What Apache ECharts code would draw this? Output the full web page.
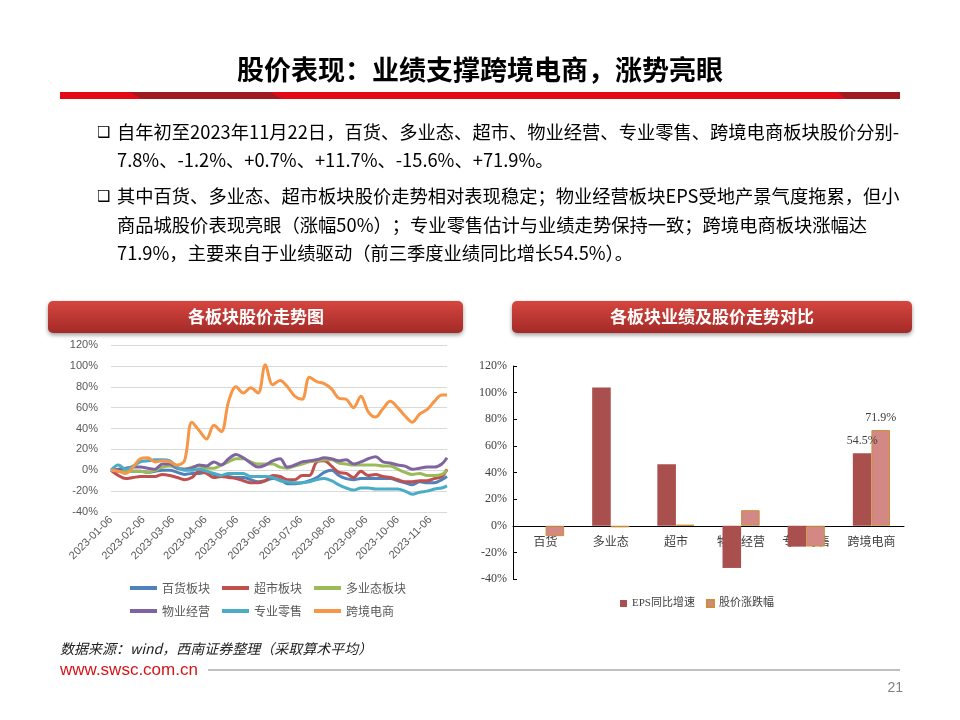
<!DOCTYPE html>
<html><head><meta charset="utf-8">
<script src="https://cdn.jsdelivr.net/npm/echarts@6/dist/echarts.min.js"></script>
<style>html,body{margin:0;padding:0;background:#fff}#c{width:960px;height:720px}</style>
</head><body><div id="c"></div>
<script>
// ---------- data: left line chart (weekly, % change since 2023-01-06) ----------
const startDate = '2023-01-06';
const endDate = '2023-11-22';
const lineNames = ['百货板块', '超市板块', '多业态板块', '物业经营', '专业零售', '跨境电商'];
const baihuo   = [0,-1,0,-1,-1,-2,-1,0,0,-2, -4,-3,-3,-2,-4,-5,-6,-7,-7,-9, -11,-10,-8,-9,-13,-13,-12,-10,-7,-2, 0,-5,-8,-9,-8,-8,-8,-8,-8,-10, -12,-14,-11,-12,-12,-9,-6];
const chaoshi  = [0,-5,-8,-7,-6,-6,-6,-4,-5,-7, -9,-7,-1,-3,-7,-6,-7,-8,-10,-12, -12,-10,-5,-6,-9,-9,-5,-5,8,9, 4,-2,-3,-7,-1,-5,-4,-6,-7,-9, -11,-11,-10,-10,-8,-6,1];
const duoyetai = [0,0,-1,-1,-1,-2,0,3,4,2, 1,3,4,2,2,5,8,11,11,8, 6,6,6,3,2,4,6,8,9,10, 10,7,6,5,5,5,5,4,4,1, -2,-4,-3,-5,-5,-4,0];
const wuye     = [0,1,2,3,3,2,1,6,6,2, 1,2,5,4,8,5,11,15,12,7, 3,5,9,11,3,5,8,9,10,12, 11,9,10,6,8,11,13,8,7,5, 4,1,2,3,3,6,12];
const zhuanye  = [0,5,1,4,8,9,10,10,9,3, 0,0,1,-1,-3,-5,-3,-3,-3,-6, -6,-6,-7,-10,-11,-12,-12,-11,-9,-8, -10,-14,-17,-19,-17,-17,-18,-18,-18,-18, -20,-23,-21,-20,-18,-17,-15];
const kuajing  = [0,-1,-3,3,11,12,8,9,8,5, 9,46,38,30,43,37,66,80,74,79, 74,101,82,86,80,71,68,89,85,83, 78,69,68,60,71,56,51,59,66,60, 52,46,54,58,66,72,72];
const lineColors = ['#4F81BD', '#C0504D', '#9BBB59', '#8064A2', '#4BACC6', '#F79646'];

// ---------- data: right bar chart ----------
const barCats = ['百货', '多业态', '超市', '物业经营', '专业零售', '跨境电商'];
const epsGrowth = [null, 103.9, 46.2, -31.7, -15.7, 54.5];
const priceChg  = [-7.8, -1.2, 0.7, 11.7, -15.6, 71.9];
const barNames = ['EPS同比增速', '股价涨跌幅'];

// ---------- axis categories ----------
function iso(t) { return new Date(t).toISOString().slice(0, 10); }
const dayCats = [];
for (let i = 0; ; i++) {
  const s = iso(Date.UTC(2023, 0, 6 + i));
  dayCats.push(s);
  if (s === endDate) break;
}
const weekDates = [];
for (let k = 0; k < 46; k++) weekDates.push(iso(Date.UTC(2023, 0, 6 + 7 * k)));
weekDates.push(endDate);

const lineData = [baihuo, chaoshi, duoyetai, wuye, zhuanye, kuajing];

const CJK = '"Noto Sans CJK SC", "Noto Sans", sans-serif';
const chart = echarts.init(document.getElementById('c'), null, {renderer: 'canvas'});

function txt(text, x, y, font, fill, align) {
  return {type: 'text', silent: true, style: {text: text, x: x, y: y, font: font, fill: fill || '#000',
    textAlign: align || 'left', textVerticalAlign: 'middle'}};
}
const redGrad = () => new echarts.graphic.LinearGradient(0, 0, 0, 1, [
  {offset: 0, color: '#D6463F'}, {offset: 1, color: '#A32A27'}]);

const graphics = [
  txt('股价表现：业绩支撑跨境电商，涨势亮眼', 480, 70, 'bold 27px ' + CJK, '#000', 'center'),
  {type: 'rect', silent: true, shape: {x: 60, y: 92, width: 840, height: 7}, style: {fill: '#E20A17'}},
  {type: 'polygon', silent: true, shape: {points: [[130, 92], [270, 92], [282, 99], [142, 99]]}, style: {fill: '#9E1C1E'}},
  {type: 'polygon', silent: true, shape: {points: [[838, 92], [900, 92], [900, 99], [846, 99]]}, style: {fill: '#9E1C1E'}},
  txt('❑', 97, 133, '15px "DejaVu Sans"', '#000'),
  txt('自年初至2023年11月22日，百货、多业态、超市、物业经营、专业零售、跨境电商板块股价分别-', 117, 132, '18.3px ' + CJK),
  txt('7.8%、-1.2%、+0.7%、+11.7%、-15.6%、+71.9%。', 117, 160, '18.3px ' + CJK),
  txt('❑', 97, 197, '15px "DejaVu Sans"', '#000'),
  txt('其中百货、多业态、超市板块股价走势相对表现稳定；物业经营板块EPS受地产景气度拖累，但小', 117, 196, '18.3px ' + CJK),
  txt('商品城股价表现亮眼（涨幅50%）；专业零售估计与业绩走势保持一致；跨境电商板块涨幅达', 117, 225, '18.3px ' + CJK),
  txt('71.9%，主要来自于业绩驱动（前三季度业绩同比增长54.5%）。', 117, 253, '18.3px ' + CJK),
  {type: 'rect', silent: true, shape: {x: 48, y: 301, width: 415, height: 32, r: 5},
    style: {fill: redGrad(), shadowBlur: 4, shadowOffsetY: 2, shadowColor: 'rgba(0,0,0,0.4)'}},
  {type: 'rect', silent: true, shape: {x: 512, y: 301, width: 400, height: 32, r: 5},
    style: {fill: redGrad(), shadowBlur: 4, shadowOffsetY: 2, shadowColor: 'rgba(0,0,0,0.4)'}},
  txt('各板块股价走势图', 256, 317, 'bold 17px ' + CJK, '#fff', 'center'),
  txt('各板块业绩及股价走势对比', 712, 317, 'bold 17px ' + CJK, '#fff', 'center'),
  txt('数据来源：wind，西南证券整理（采取算术平均）', 60, 649, 'italic 14px ' + CJK, '#222'),
  txt('www.swsc.com.cn', 60, 670, '17px "Liberation Sans Narrow", "Liberation Sans", sans-serif', '#D7141A'),
  {type: 'line', silent: true, shape: {x1: 208, y1: 670, x2: 900, y2: 670}, style: {stroke: '#BFBFBF', lineWidth: 2}},
  txt('21', 903, 688, '14px "Liberation Sans", sans-serif', '#808080', 'right')
];

const option = {
  animation: false,
  backgroundColor: '#fff',
  graphic: graphics,
  grid: [
    {left: 111, right: 513, top: 345, bottom: 208},
    {left: 513, right: 56, top: 366, bottom: 141}
  ],
  legend: [
    {data: lineNames.slice(0, 3), left: 130, top: 582, padding: 0, itemWidth: 27, itemHeight: 4, itemGap: 12,
      icon: 'rect', textStyle: {fontSize: 12, color: '#595959', fontFamily: CJK}},
    {data: lineNames.slice(3), left: 130, top: 605, padding: 0, itemWidth: 27, itemHeight: 4, itemGap: 12,
      icon: 'rect', textStyle: {fontSize: 12, color: '#595959', fontFamily: CJK}},
    {data: barNames, left: 620, top: 598, padding: 0, itemWidth: 7, itemHeight: 7, itemGap: 11,
      icon: 'rect', textStyle: {fontSize: 11, color: '#404040', fontFamily: '"Liberation Serif", ' + CJK}}
  ],
  xAxis: [
    {gridIndex: 0, type: 'category', data: dayCats, boundaryGap: false,
      axisLine: {show: false}, axisTick: {show: false},
      axisLabel: {interval: (i, v) => v.slice(8) === '06' && v <= '2023-11-06', rotate: 45, margin: 6,
        fontSize: 11, color: '#595959', fontFamily: '"Liberation Sans", sans-serif'},
      splitLine: {show: false}},
    {gridIndex: 1, type: 'category', data: barCats,
      axisLine: {onZero: true, lineStyle: {color: '#000', width: 1}},
      axisTick: {inside: true, length: 4, lineStyle: {color: '#000'}},
      axisLabel: {fontSize: 12, color: '#404040', margin: -44, fontFamily: CJK}}
  ],
  yAxis: [
    {gridIndex: 0, type: 'value', min: -40, max: 120, interval: 20,
      axisLine: {show: false}, axisTick: {show: false},
      axisLabel: {formatter: '{value}%', fontSize: 11, color: '#595959', margin: 13, fontFamily: '"Liberation Sans", sans-serif'},
      splitLine: {lineStyle: {color: '#D9D9D9', width: 1}}},
    {gridIndex: 1, type: 'value', min: -40, max: 120, interval: 20,
      axisLine: {show: true, lineStyle: {color: '#000', width: 1}},
      axisTick: {show: true, inside: true, length: 4, lineStyle: {color: '#000'}},
      axisLabel: {formatter: '{value}%', fontSize: 12, color: '#404040', margin: 6, fontFamily: '"Liberation Serif", serif'},
      splitLine: {show: false}}
  ],
  series: lineNames.map((name, si) => ({
    name: name, type: 'line', xAxisIndex: 0, yAxisIndex: 0, smooth: 0.35, showSymbol: false, symbol: 'none',
    lineStyle: {width: 3, color: lineColors[si]}, itemStyle: {color: lineColors[si]},
    data: lineData[si].map((v, i) => [weekDates[i], v])
  })).concat([
    {name: barNames[0], type: 'bar', xAxisIndex: 1, yAxisIndex: 1, barGap: '0%', barCategoryGap: '43%',
      itemStyle: {color: '#A9504F'},
      label: {show: false, position: 'top', distance: 6, color: '#404040', fontSize: 12, fontFamily: '"Liberation Serif", serif',
        formatter: p => p.value.toFixed(1) + '%'},
      data: epsGrowth.map((v, i) => i === 5 ? {value: v, label: {show: true}} : v)},
    {name: barNames[1], type: 'bar', xAxisIndex: 1, yAxisIndex: 1, barGap: '0%', barCategoryGap: '43%',
      itemStyle: {color: '#D48885', borderColor: '#C8913B', borderWidth: 1},
      label: {show: false, position: 'top', distance: 6, color: '#404040', fontSize: 12, fontFamily: '"Liberation Serif", serif',
        formatter: p => p.value.toFixed(1) + '%'},
      data: priceChg.map((v, i) => i === 5 ? {value: v, label: {show: true}} : v)}
  ])
};
chart.setOption(option);
</script>
</body></html>
